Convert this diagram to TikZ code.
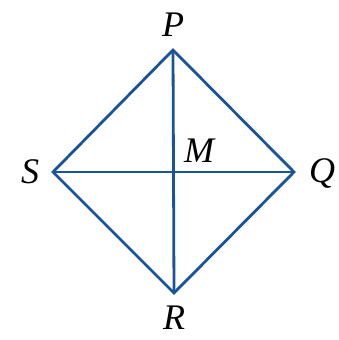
\documentclass[tikz,border=0pt]{standalone}
\usepackage{fontspec}
\setmainfont{Liberation Serif}
\begin{document}
\begin{tikzpicture}[x=1pt,y=1pt,
  edge/.style={draw=ln,line width=2.8pt,line join=miter},
  lbl/.style={font=\fontsize{36}{40}\selectfont\itshape,inner sep=0pt}]
\definecolor{ln}{RGB}{26,84,152}
\useasboundingbox (0,0) rectangle (339,340);
\coordinate (P) at (173,290);
\coordinate (Q) at (294,168);
\coordinate (R) at (174,47);
\coordinate (S) at (53,168);
\coordinate (M) at (173.5,168);
\draw[edge] (P) -- (Q) -- (R) -- (S) -- cycle;
\draw[edge] (P) -- (R);
\draw[edge] (S) -- (Q);
\node[lbl] (lp) at (173,315) {P};
\node[lbl] (lq) at (322,166) {Q};
\node[lbl] (lr) at (174,22) {R};
\node[lbl] (ls) at (30,168) {S};
\node[lbl] (lm) at (199,189) {M};
\end{tikzpicture}
\end{document}
